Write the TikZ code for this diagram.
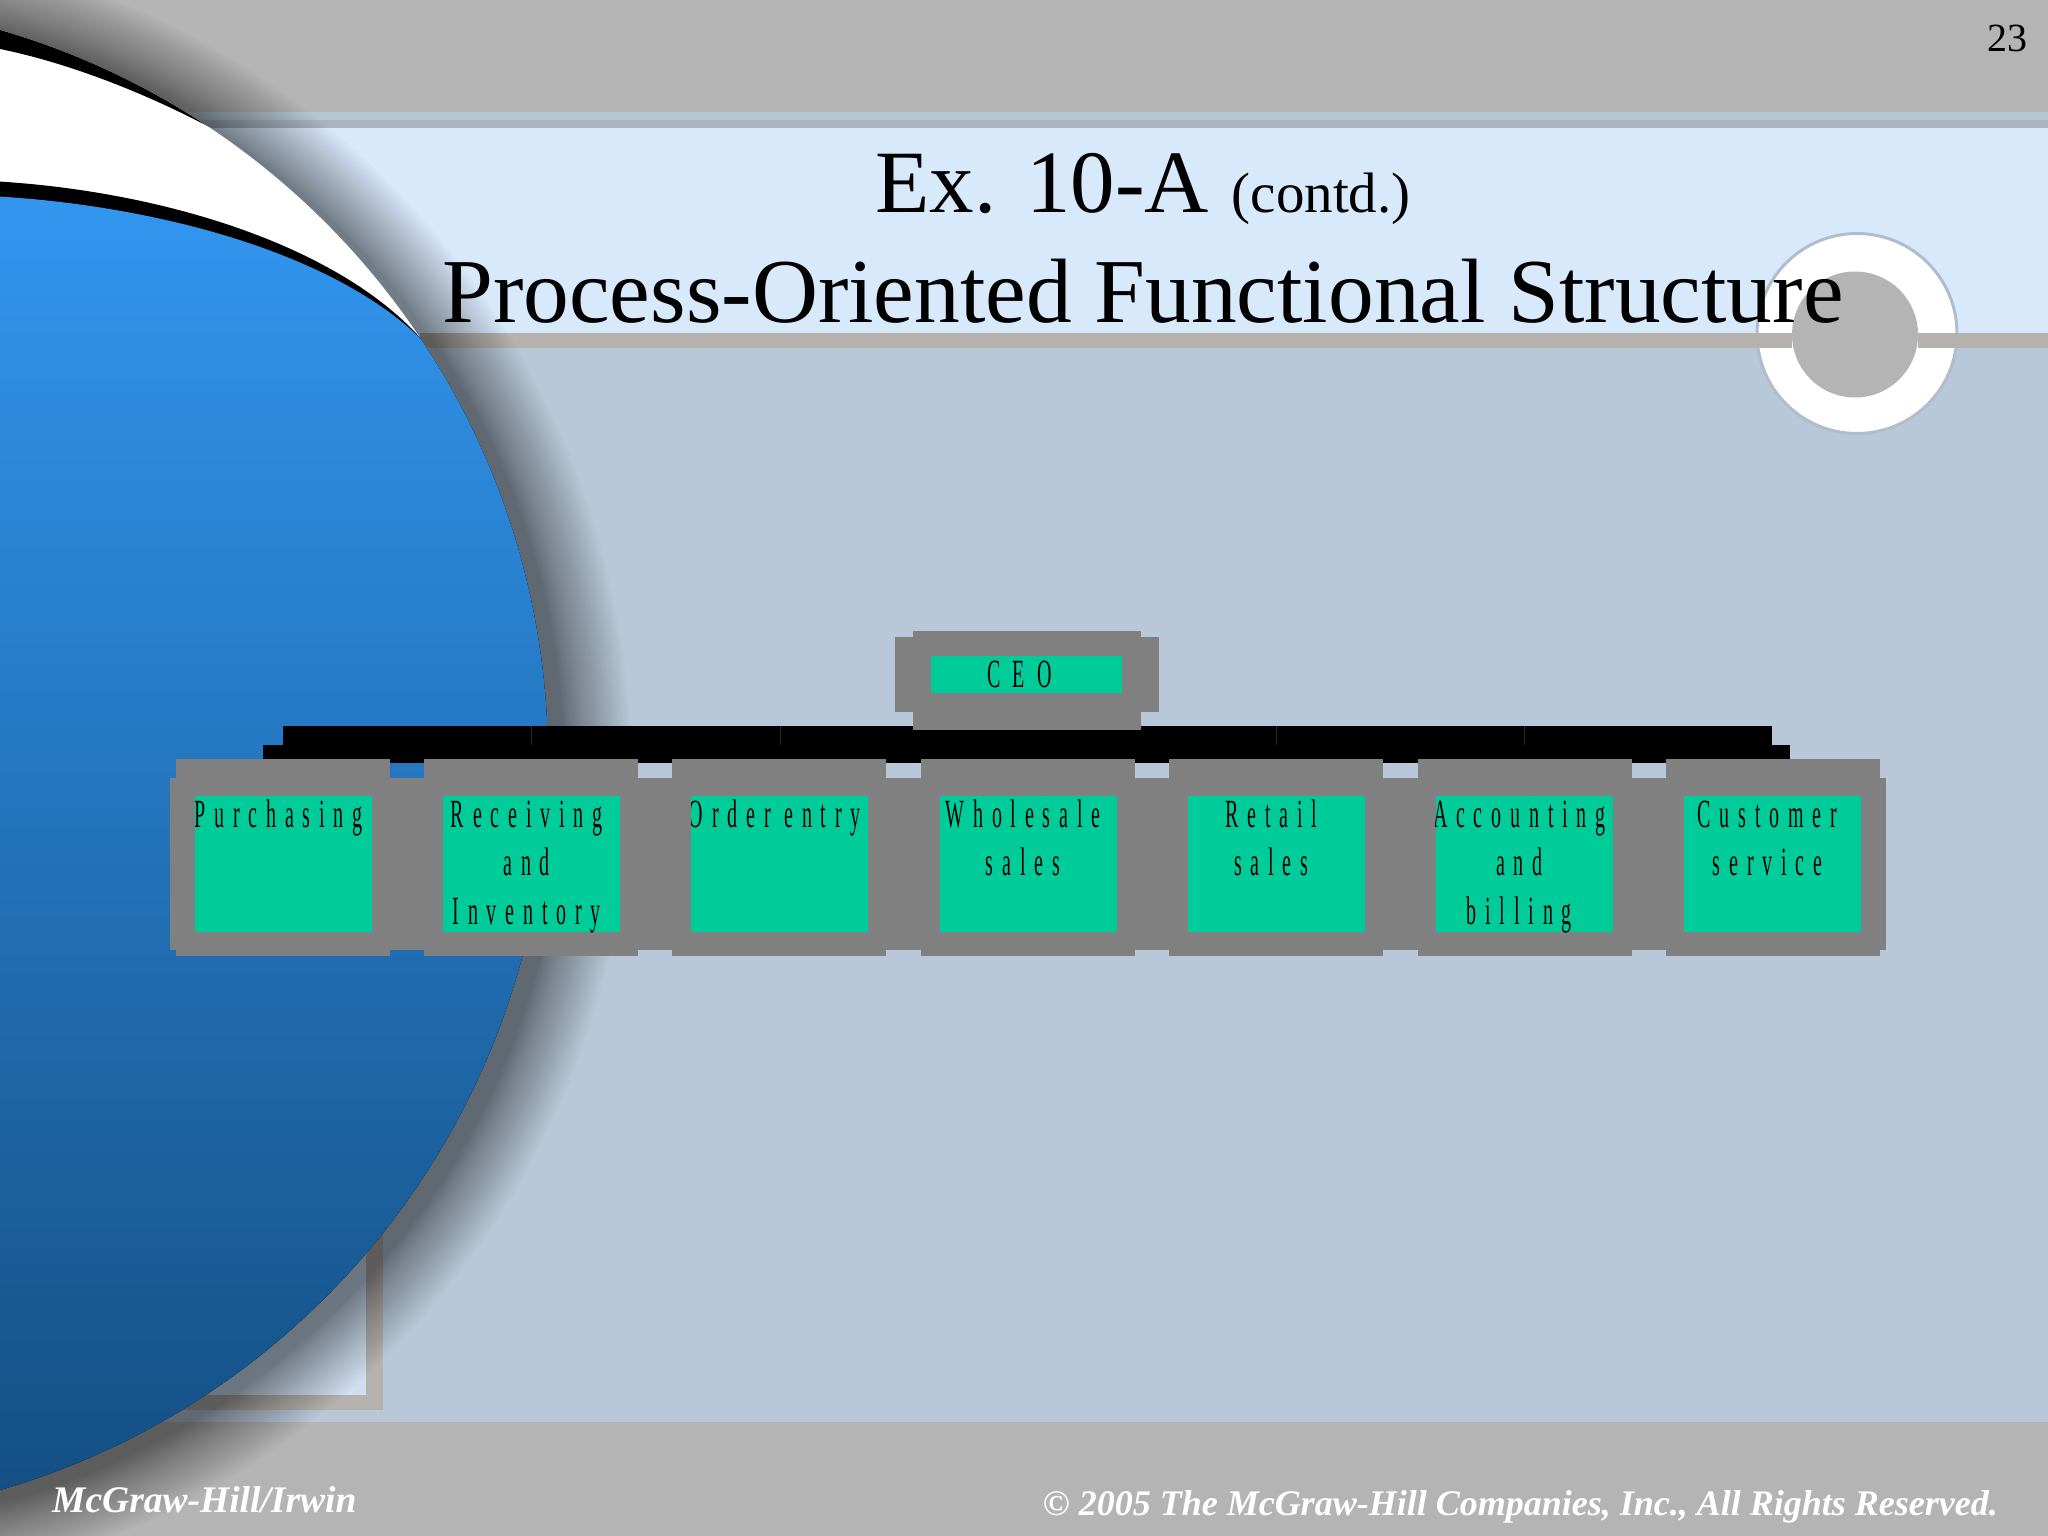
\documentclass[tikz,border=0pt]{standalone}
\usepackage{fontspec}
\setmainfont{Liberation Serif}
\newfontfamily\boxfont[FakeStretch=0.5,LetterSpace=22]{Liberation Serif}
\newfontfamily\ceofont[FakeStretch=0.5,LetterSpace=30]{Liberation Serif}
\definecolor{bandgray}{HTML}{B5B4B4}
\definecolor{slidebg}{HTML}{B9C8D9}
\definecolor{titlebg}{HTML}{D8E9FB}
\definecolor{bargray}{HTML}{B5B1AE}
\definecolor{stripeone}{HTML}{B4C6D0}
\definecolor{stripetwo}{HTML}{AAB4BF}
\definecolor{boxgray}{HTML}{808080}
\definecolor{boxgreen}{HTML}{00CC99}
\definecolor{ballhi}{HTML}{3296F0}
\definecolor{ballmid}{HTML}{2B80D4}
\definecolor{balllo}{HTML}{134D80}
\tikzset{
  depttext/.style={inner sep=0pt,minimum width=0pt,minimum height=0pt,anchor=north,align=center,font=\boxfont\fontsize{40}{48.5}\selectfont},
  deptbox/.style={fill=boxgreen,minimum width=177pt,minimum height=136pt,inner sep=0pt,
    path picture={\node[depttext,xshift=-5pt,yshift=3pt] at (path picture bounding box.north) {\strut #1};}},
  titletext/.style={anchor=base,inner sep=0pt,font=\fontsize{91.4}{91.4}\selectfont},
}
\begin{document}
\begin{tikzpicture}[x=1pt,y=-1pt]
\useasboundingbox (0,0) rectangle (2048,1536);
\clip (0,0) rectangle (2048,1536);
% backdrop
\fill[slidebg] (0,0) rectangle (2048,1536);
\fill[titlebg] (0,128) rectangle (2048,340);
\fill[bandgray] (0,0) rectangle (2048,112);
\fill[stripeone] (0,112) rectangle (2048,120);
\fill[stripetwo] (0,120) rectangle (2048,128);
\fill[bandgray] (0,1422) rectangle (2048,1536);
% corner frame
\fill[titlebg!70!slidebg] (150,1000) rectangle (366,1395);
\fill[bargray] (366,1000) rectangle (383,1410);
\fill[bargray] (150,1395) rectangle (383,1410);
% ring
\filldraw[fill=white,draw=slidebg!85!gray,line width=3pt] (1857,333.5) circle (100);
\fill[bandgray] (1855,334.5) circle (63);
\fill[bargray] (420,333) rectangle (1792,348);
\fill[bargray] (1918,333) rectangle (2048,348);
% shadow of the ball
\foreach \k in {1,...,28}
  \fill[black,opacity=0.02] (-197,768) circle ({760+68*(\k/28)^1.3});
% ball
\fill[white] (-212,760) circle (760);
\begin{scope}
\clip (-212,760) circle (760);
\fill[black] (-10,20) -- (-10,47) .. controls (60,60) and (140,90) .. (215,130) -- (215,20) -- cycle;
\fill[black] (-10,181) .. controls (160,190) and (340,245) .. (424,342) -- (600,342) -- (600,1600) -- (-10,1600) -- cycle;
\fill[top color=ballhi,middle color=ballmid,bottom color=balllo] (-10,196) .. controls (160,205) and (340,255) .. (426,344) -- (600,344) -- (600,1530) -- (-10,1530) -- cycle;
\end{scope}
% black bar
\fill[black] (283,726) rectangle (1772,763);
\fill[black] (263,745) rectangle (1790,763);
\foreach \i in {1,2,4,5}
  \draw[black!85,line width=0.4pt] (283.5+248.17*\i,726) -- ++(0,19);
% CEO box
\fill[boxgray] (895,637) rectangle (1159,712);
\fill[boxgray] (913,631) rectangle (1141,730);
\node[fill=boxgreen,minimum width=191pt,minimum height=37pt,inner sep=0pt,
  font=\ceofont\fontsize{40}{40}\selectfont] (ceo) at (1026.5,674.5) {CEO\kern14pt};
% department boxes
\fill[boxgray] (170.4,778) rectangle (1886,950);
\foreach \i in {0,...,6}
  \fill[boxgray] (175.5+248.4*\i,759) rectangle ++(214,197);
\node[deptbox={Purchasing}] (purchasing) at (283.5,864) {};
\node[deptbox={Receiving\\and\\Inventory}] (receiving) at (531.7,864) {};
\node[deptbox={Order entry}] (order) at (779.8,864) {};
\node[deptbox={Wholesale\\sales}] (wholesale) at (1028,864) {};
\node[deptbox={Retail\\sales}] (retail) at (1276.2,864) {};
\node[deptbox={Accounting\\and\\billing}] (accounting) at (1524.3,864) {};
\node[deptbox={Customer\\service}] (customer) at (1772.5,864) {};
% texts
\node[titletext] (titleone) at (1143,212) {{\fontsize{89}{89}\selectfont Ex. 10-A} {\fontsize{57}{57}\selectfont (contd.)}};
\node[titletext] (titletwo) at (1143,322) {Process-Oriented Functional Structure};
\node[anchor=base east,inner sep=0pt,font=\fontsize{40}{40}\selectfont] (pagenum) at (2028,52) {23};
\node[anchor=base west,inner sep=0pt,white,font=\bfseries\itshape\fontsize{37.5}{37.5}\selectfont] (publisher) at (52,1512) {McGraw-Hill/Irwin};
\node[anchor=base east,inner sep=0pt,white,font=\bfseries\itshape\fontsize{36}{36}\selectfont] (copyright) at (1998,1515) {© 2005 The McGraw-Hill Companies, Inc., All Rights Reserved.};
\end{tikzpicture}
\end{document}
